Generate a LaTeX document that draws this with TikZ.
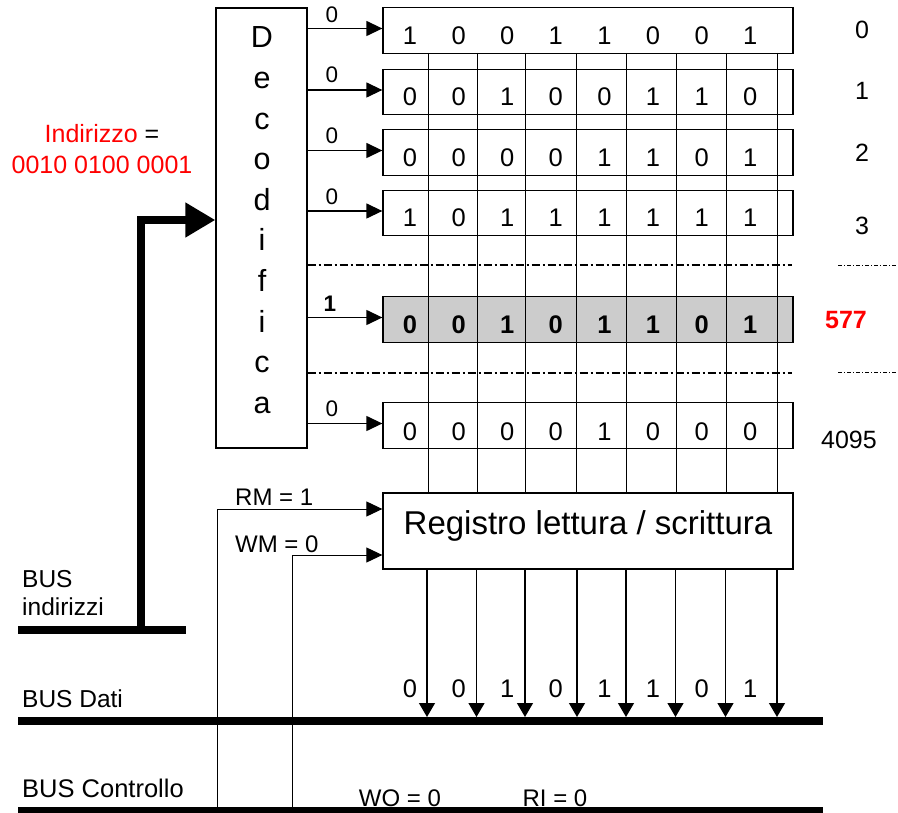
\documentclass[tikz,border=0pt]{standalone}
\usepackage{fontspec}
\setmainfont{Liberation Sans}
\usetikzlibrary{arrows.meta}
\newcommand\myfs[1]{\fontsize{#1pt}{#1pt}\selectfont}
\definecolor{cellgray}{gray}{0.8}
\begin{document}
\begin{tikzpicture}[x=1pt,y=-1pt,
  rowbox/.style={draw, line width=1.3pt, minimum width=410pt, minimum height=45.5pt, inner sep=0pt},
  regbox/.style={draw, line width=1.3pt, minimum width=410pt, minimum height=76pt, inner sep=0pt},
  decbox/.style={draw, line width=1.3pt, minimum width=91pt, minimum height=440pt, inner sep=0pt},
  dig/.style={font=\myfs{25.5}, anchor=base, inner sep=0pt},
  bdig/.style={font=\myfs{25.5}\bfseries, anchor=base, inner sep=0pt},
  declet/.style={font=\myfs{30.5}, anchor=base, inner sep=0pt},
  lab/.style={font=\myfs{22.5}, anchor=base, inner sep=0pt},
  txt/.style={font=\myfs{24}, anchor=base west, inner sep=0pt},
  arr/.style={line width=1.3pt, -{Triangle[length=16pt,width=15pt]}},
  darr/.style={line width=1.3pt, -{Triangle[length=14pt,width=16pt]}},
  gridline/.style={line width=1pt},
  bus/.style={line width=8pt},
  dd/.style={line width=1.3pt, dash pattern=on 8pt off 3pt on 2pt off 3pt},
  ddsmall/.style={line width=0.8pt, dash pattern=on 4pt off 2pt on 1pt off 2pt},
]
\useasboundingbox (0,0) rectangle (898,813);

% decoder
\node[decbox] (dec) at (261.5,228) {};
\foreach \l [count=\i from 0] in {D,e,c,o,d,i,f,i,c,a}
  \node[declet] (L\i) at (262,{48+40.6*\i}) {\l};

% selected row fill (under grid lines)
\fill[cellgray] (383,297) rectangle (793,342.5);

% vertical lines through the rows
\foreach \x [count=\k] in {428,477,525.5,576.5,626,676,726.5,777.5}
  \draw[gridline] (\x,53) -- (\x,493);

% rows
\node[rowbox] (r0) at (588,30.5) {};
\node[rowbox] (r1) at (588,92) {};
\node[rowbox] (r2) at (588,152.5) {};
\node[rowbox] (r3) at (588,213) {};
\node[rowbox] (r577) at (588,319.5) {};
\node[rowbox] (r4095) at (588,425.5) {};

\foreach \r/\yb/\bits in {0/45/{1,0,0,1,1,0,0,1},1/106/{0,0,1,0,0,1,1,0},2/167/{0,0,0,0,1,1,0,1},3/227/{1,0,1,1,1,1,1,1},4095/440/{0,0,0,0,1,0,0,0}}
  \foreach \b [count=\k from 0] in \bits
    \node[dig] (d\r-\k) at ({410+48.6*\k},\yb) {\b};
\foreach \b [count=\k from 0] in {0,0,1,0,1,1,0,1}
  \node[bdig] (d577-\k) at ({410+48.6*\k},334) {\b};

% decoder outputs
\foreach \r/\v/\ly in {0/0/23,1/0/83,2/0/144,3/0/205,4095/0/417}{
  \path ([yshift=2pt]r\r.west) coordinate (a\r);
  \draw[arr] (dec.east |- a\r) -- (a\r);
  \node[lab] (o\r) at (332,\ly) {\v};
}
\path ([yshift=2pt]r577.west) coordinate (a577);
\draw[arr] (dec.east |- a577) -- (a577);
\node[lab, font=\myfs{22.5}\bfseries] (o577) at (330,312) {1};

% dash-dot separators
\draw[dd] (dec.east |- 0,265) coordinate (s1) -- (792,265);
\draw[dd] (dec.east |- 0,373) coordinate (s2) -- (792,373);
\draw[ddsmall] (838,265) -- (898,265);
\draw[ddsmall] (838,372) -- (898,372);

% row indexes
\node[font=\myfs{25}, inner sep=0pt] (i0) at (862,30) {0};
\node[font=\myfs{25}, inner sep=0pt] (i1) at (862,91) {1};
\node[font=\myfs{25}, inner sep=0pt] (i2) at (862,153) {2};
\node[font=\myfs{25}, inner sep=0pt] (i3) at (862,226) {3};
\node[font=\myfs{25}\bfseries, text=red, inner sep=0pt] (i577) at (846,320) {577};
\node[font=\myfs{25}, inner sep=0pt] (i4095) at (849,440) {4095};

% address label
\node[font=\myfs{25}, anchor=base, inner sep=0pt] (addr1) at (102,143) {\textcolor{red}{Indirizzo} =};
\node[font=\myfs{25}, anchor=base, inner sep=0pt, text=red] (addr2) at (102,174) {0010 0100 0001};

% register
\node[regbox] (reg) at (588,531) {};
\node[font=\myfs{33}, anchor=base, inner sep=0pt] (regt) at (588,534) {Registro lettura / scrittura};

% buses
\draw[bus] (18,630) coordinate (ab0) -- (186,630) coordinate (ab1);
\draw[bus] (18,721) coordinate (db0) -- (823,721) coordinate (db1);
\draw[bus] (18,811) coordinate (cb0) -- (823,811) coordinate (cb1);
\node[txt, font=\myfs{24.5}] (busa1) at (22,587) {BUS};
\node[txt, font=\myfs{24.5}] (busa2) at (22,615) {indirizzi};
\node[txt, font=\myfs{24.5}] (busd) at (22,707) {BUS Dati};
\node[txt, font=\myfs{25.5}] (busc) at (22,797) {BUS Controllo};

% address bus to decoder
\coordinate (abv) at (141,626);
\coordinate (abc) at (141,220);
\draw[line width=8pt, line join=miter, -{Triangle[length=30pt,width=33pt]}] (abv) -- (abc) -- (dec.west |- abc);

% data outputs
\foreach \x [count=\k from 0] in {427,476.5,525,577,626,675.5,725.5,777}
  \draw[darr] (\x,569) -- (\x,717);
\foreach \b [count=\k from 0] in {0,0,1,0,1,1,0,1}
  \node[dig] (q\k) at ({410+48.6*\k},697) {\b};

% control lines
\coordinate (rm0) at (217,808);
\coordinate (rm1) at (217,509);
\coordinate (wm0) at (292,808);
\coordinate (wm1) at (292,555);
\draw[arr, line width=1pt] (rm0) -- (rm1) -- (reg.west |- rm1);
\draw[arr, line width=1pt] (wm0) -- (wm1) -- (reg.west |- wm1);
\node[txt] (rmt) at (235,505) {RM = 1};
\node[txt] (wmt) at (235,552) {WM = 0};
\node[font=\myfs{24}, anchor=base, inner sep=0pt] (wo) at (400,806) {WO = 0};
\node[font=\myfs{24}, anchor=base, inner sep=0pt] (ri) at (555,806) {RI = 0};
\end{tikzpicture}
\end{document}
